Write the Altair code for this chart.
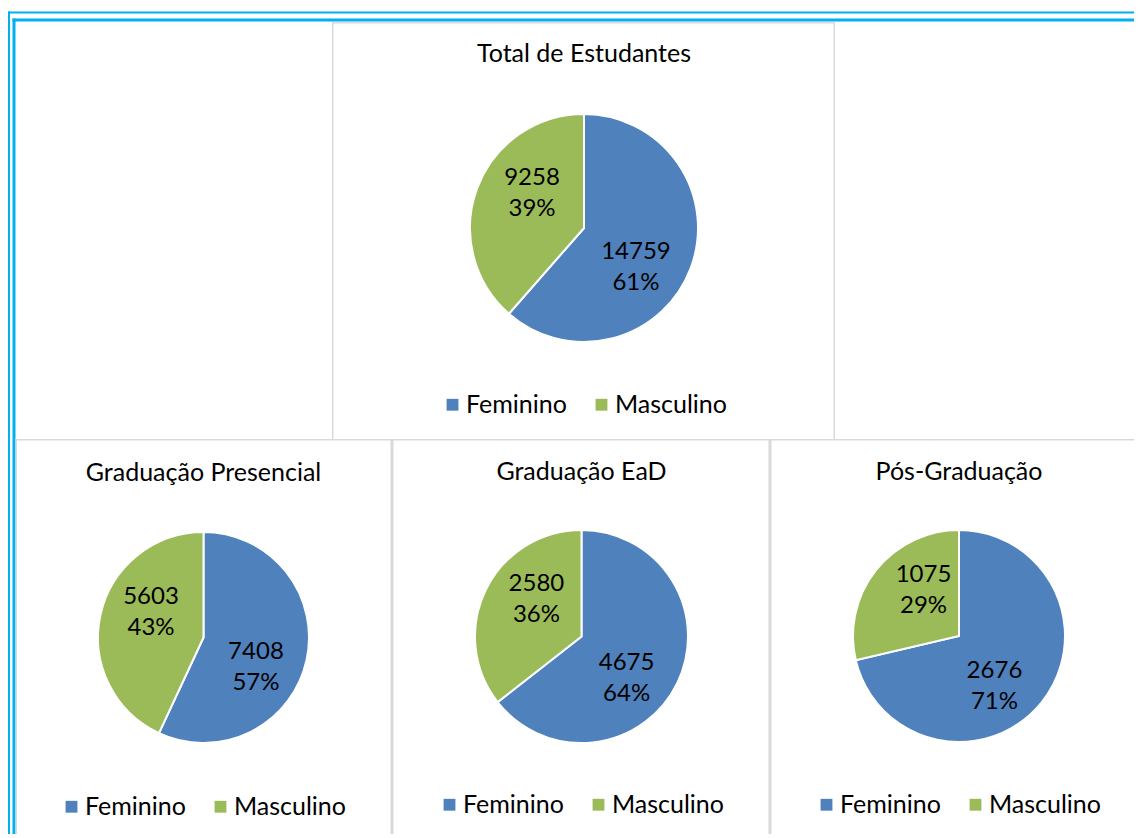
import altair as alt
import pandas as pd

# ---- data ----
titulos = ["Total de Estudantes", "Graduação Presencial", "Graduação EaD", "Pós-Graduação"]
generos = ["Feminino", "Masculino"]
feminino = [14759, 7408, 4675, 2676]
masculino = [9258, 5603, 2580, 1075]
cores = ["#4F81BD", "#9BBB59"]

FONT = "Lato"
CYAN = "#00B0F0"
GRAY = "#D9D9D9"

dd = pd.DataFrame({"k": [0]})


def band(x0, x1, y0, y1, color):
    """Decorative frame line drawn as a thin filled rectangle (exact bounds)."""
    return alt.Chart(dd).mark_rect(color=color).encode(
        x=alt.value(x0), x2=alt.value(x1), y=alt.value(y0), y2=alt.value(y1))


def pie_view(i, w, h, cx, cy, r, ty, lx, ly, decos):
    total = feminino[i] + masculino[i]
    vals = [feminino[i], masculino[i]]
    df = pd.DataFrame({
        "genero": generos,
        "valor": vals,
        "ordem": [0, 1],
        "rotulo": [f"{v}\n{round(100 * v / total)}%" for v in vals],
    })
    base = alt.Chart(df).encode(
        theta=alt.Theta("valor:Q", stack=True),
        order=alt.Order("ordem:Q"),
        x=alt.value(cx), y=alt.value(cy),
    )
    arc = base.mark_arc(outerRadius=r, stroke="white", strokeWidth=2).encode(
        color=alt.Color("genero:N",
                        scale=alt.Scale(domain=generos, range=cores),
                        legend=alt.Legend(orient="none", legendX=lx, legendY=ly,
                                          direction="horizontal", title=None,
                                          symbolType="square", symbolSize=140,
                                          symbolStrokeWidth=0, labelFont=FONT,
                                          labelFontSize=25, labelColor="black",
                                          labelOffset=1, columnPadding=22,
                                          padding=0)))
    txt = base.mark_text(radius=0.56 * r, thetaOffset=0.26, font=FONT, fontSize=24,
                         lineBreak="\n", lineHeight=31, baseline="middle", dy=-13,
                         align="center", color="black").encode(
        text="rotulo:N", detail="genero:N")
    title = alt.Chart(dd).mark_text(text=titulos[i], font=FONT, fontSize=25,
                                    color="black", baseline="middle").encode(
        x=alt.value(cx), y=alt.value(ty))
    return alt.layer(*decos, arc, txt, title).properties(width=w, height=h)


# ---- top row ----
TH = 431
LW, TW, RW = 324, 503, 299
left_sp = alt.layer(
    band(0, 2, 3.5, TH, CYAN),
    band(4.5, 7.5, 10.5, TH, CYAN),
    band(0, LW, 3.5, 5.5, CYAN),
    band(4.5, LW, 10.5, 13.5, CYAN),
).properties(width=LW, height=TH)

top = pie_view(0, TW, TH, 252, 220, 114, 46, 108, 384, [
    band(0, TW, 3.5, 5.5, CYAN),
    band(0, TW, 10.5, 13.5, CYAN),
    band(0, TW, 14, 15.5, GRAY),
    band(0, 1.5, 14, TH, GRAY),
    band(501.5, 503, 14, TH, GRAY),
])

right_sp = alt.layer(
    band(0, RW, 3.5, 5.5, CYAN),
    band(0, RW, 10.5, 13.5, CYAN),
).properties(width=RW, height=TH)

# ---- bottom row ----
BH = 395
W1, W2, W3 = 384, 378, 364
p1 = pie_view(1, W1, BH, 195.5, 198.5, 105.5, 34, 51, 355, [
    band(0, 2, 0, BH, CYAN),
    band(4.5, 7.5, 0, BH, CYAN),
    band(7.5, W1, 0, 1.5, GRAY),
    band(7.5, 9, 0, BH, GRAY),
    band(382.5, 384, 0, BH, GRAY),
])
p2 = pie_view(2, W2, BH, 189.5, 197.5, 106.5, 33, 45, 353, [
    band(0, W2, 0, 1.5, GRAY),
    band(0, 1.5, 0, BH, GRAY),
    band(376.5, 378, 0, BH, GRAY),
])
p3 = pie_view(3, W3, BH, 189, 197, 106, 33, 44, 353, [
    band(0, W3, 0, 1.5, GRAY),
    band(0, 1.5, 0, BH, GRAY),
])

row1 = alt.hconcat(left_sp, top, right_sp, spacing=0).resolve_scale(
    color="independent", theta="independent").resolve_legend(color="independent")
row2 = alt.hconcat(p1, p2, p3, spacing=0).resolve_scale(
    color="independent", theta="independent").resolve_legend(color="independent")

chart = alt.vconcat(row1, row2, spacing=0).resolve_scale(
    color="independent", theta="independent").resolve_legend(
    color="independent").properties(padding=0, background="white").configure_view(
    stroke=None)

chart.save("out.html", embed_options={"renderer": "svg", "actions": False})
